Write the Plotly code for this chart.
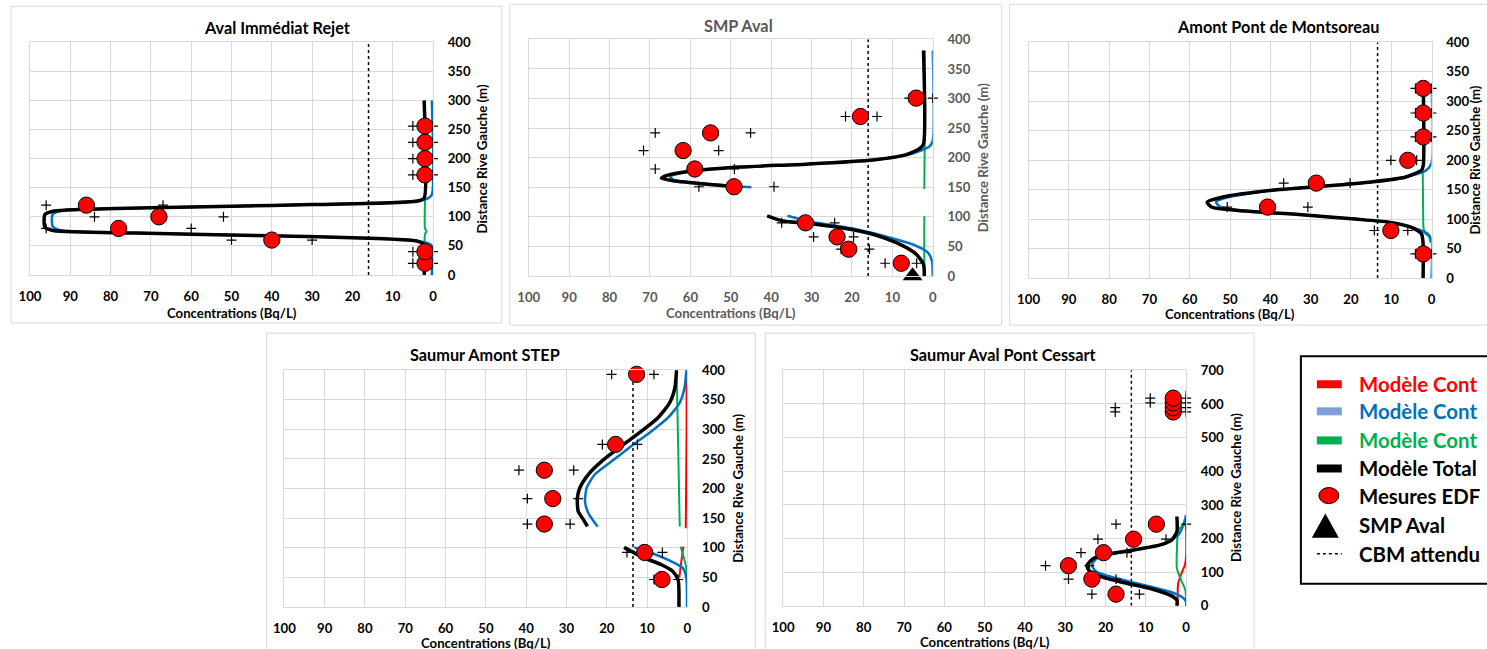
import plotly.graph_objects as go

# Layout is specified in target-picture pixels (1487x649) and converted to figure pixels.
FX, FY = 0.9924, 649 / 667   # observed page->picture scaling
OFF = 8                      # body margin of the page
W, H = 1495, 659             # figure size (covers the captured page area)

# ---------------- Panel 1 : Aval Immédiat Rejet ----------------
p1_total_x = [2.2, 2.2, 3.5, 10, 30, 50, 70, 88, 94, 96.3, 96.3, 94, 73.6, 40.6, 15.8, 4.3, 2.2, 2.2]
p1_total_y = [300, 132, 127.5, 124, 121, 118, 115.5, 112.5, 110, 104, 82, 76, 72, 67.3, 63.3, 58.7, 52, 0]
p1_blue_x = [0.3, 0.3, 1.5, 4.5, 30, 50, 70, 88, 92.5, 94.4, 94.4, 92.5, 73.6, 40.6, 15.8, 4.3, 1, 0.3, 0.3]
p1_blue_y = [300, 138, 131, 127, 121, 118, 115.5, 112.5, 110, 104, 84, 77, 72, 67.3, 63.3, 59, 54, 50, 0]
p1_green_x = [2, 2, 2, 1.6, 2, 2]
p1_green_y = [300, 130, 80, 75, 70, 0]
p1_meas_x = [2, 2, 40, 78, 68, 86, 2, 2, 2, 2]
p1_meas_y = [20, 40, 60, 80, 100, 120, 172, 200, 228, 256]
p1_lo_x = [5, 5, 50, 96, 84, 96, 5, 5, 5, 5]
p1_hi_x = [0, 0, 30, 60, 52, 67, 0, 0, 0, 0]
p1_cbm = 16

# ---------------- Panel 2 : SMP Aval ----------------
p2_total_up_x = [2.3, 2.3, 3.3, 6.6, 14.8, 31.3, 47.8, 60.2, 66.0, 67.2, 64.3, 56, 50]
p2_total_up_y = [381, 223, 215, 205, 196, 189, 184, 177, 169.5, 165, 161, 155, 151.5]
p2_total_lo_x = [41, 37.1, 31.3, 23.1, 14.8, 8.2, 4.1, 2.3, 2.1]
p2_total_lo_y = [101.7, 93, 89, 82, 70.6, 53.7, 36.7, 19.8, 0]
p2_blue_up_x = [0, 0, 0.8, 3.3, 6.6, 14.8, 31.3, 47.8, 60.2, 65, 64.0, 56, 44.9]
p2_blue_up_y = [381, 229, 219, 211, 204, 196, 189, 184, 177, 168, 162, 156, 150]
p2_blue_lo_x = [36, 31.3, 19, 10.7, 4.1, 1.2, 0.2, 0]
p2_blue_lo_y = [101.7, 93, 79, 65, 51, 39.5, 25, 0]
p2_green_up_x = [2.0, 2.0, 2.1]
p2_green_up_y = [381, 225, 147]
p2_green_lo_x = [2.1, 2.1, 2.0]
p2_green_lo_y = [101, 20, 0]
p2_meas_x = [7.8, 20.8, 23.7, 31.5, 49.2, 58.9, 61.8, 55, 17.9, 4.1]
p2_meas_y = [21.5, 45.2, 66.1, 89.8, 150.8, 180.8, 211.9, 241.8, 269.5, 300.6]
p2_lo_x = [11.8, 22.7, 29.5, 37.4, 57.9, 68.7, 71.6, 68.7, 21.6, 5.8]
p2_hi_x = [4.0, 15.7, 19.6, 24.3, 39.3, 49.1, 53, 45.1, 13.8, 0]
p2_smp_x = [5.0]
p2_smp_y = [0]
p2_cbm = 16

# ---------------- Panel 3 : Amont Pont de Montsoreau ----------------
p3_total_x = [2.06, 2.06, 2.5, 6.6, 14.9, 27.2, 39.6, 52, 55.7, 54.5, 47.9, 31.4, 19, 10.7, 5, 2.5, 2.1, 2.1]
p3_total_y = [327, 191, 183, 171, 163, 155.5, 148.7, 137, 128.8, 120, 114.6, 107, 100, 94.7, 86, 75, 58, 0]
p3_blue_x = [0, 0, 1.5, 6.6, 14.9, 27.2, 39.6, 50.5, 53.5, 52.5, 47.9, 31.4, 19, 10.7, 4, 1, 0, 0]
p3_blue_y = [327, 195, 182, 171, 163, 155.5, 148.7, 137, 129, 121, 114.6, 107, 100, 94.7, 84, 75, 64, 0]
p3_green_x = [2.2, 2.1, 2.0, 1.6, 0.6, 0.3]
p3_green_y = [185, 120, 85, 76, 70, 60]
p3_meas_x = [2.06, 10.1, 40.7, 28.6, 5.9, 2.06, 2.06, 2.06]
p3_meas_y = [40.9, 80.6, 120.3, 161, 199.7, 239.4, 280, 321.7]
p3_lo_x = [4, 14.2, 50.7, 36.7, 10.1, 4, 4, 4]
p3_hi_x = [0, 5.9, 30.7, 20.2, 3.7, 0, 0, 0]
p3_cbm = 13.4

# ---------------- Panel 4 : Saumur Amont STEP ----------------
p4_total_up_x = [2.7, 3.1, 4.4, 7.3, 11.4, 16.4, 21.3, 24.6, 26.7, 27.3, 27.1, 25.8, 24.8]
p4_total_up_y = [400, 370.6, 345, 319.8, 297, 271.8, 246, 223.7, 201, 184, 161.6, 147.5, 136]
p4_total_lo_x = [15.7, 13.9, 10.6, 6.4, 3.6, 2.3, 2.1, 2.1]
p4_total_lo_y = [100.6, 93.8, 82.5, 71.2, 60, 45.8, 26, 0]
p4_blue_up_x = [0.25, 0.7, 1.9, 4.8, 8.9, 13.9, 18.8, 23, 25, 25.4, 24.6, 22.3]
p4_blue_up_y = [400, 370.6, 345, 319.8, 297, 271.8, 246, 223.7, 201, 178.5, 158.8, 136]
p4_blue_lo_x = [13.2, 8.9, 4, 1.1, 0.25, 0.1]
p4_blue_lo_y = [100.6, 91, 76.8, 65.5, 48.6, 0]
p4_green_up_x = [2.7, 2.5, 1.9]
p4_green_up_y = [400, 342, 136]
p4_green_lo_x = [1.7, 0.25, 0.1]
p4_green_lo_y = [102, 65, 0]
p4_red_up_x = [0.2, 0.2, 0.4]
p4_red_up_y = [400, 300, 133]
p4_red_lo_x = [1.0, 1.5, 2.0]
p4_red_lo_y = [102, 77, 50]
p4_meas_x = [6.3, 10.6, 35.5, 33.4, 35.5, 17.8, 12.6]
p4_meas_y = [46.3, 92, 140, 183, 231, 274.6, 393]
p4_lo_x = [8.3, 15.0, 39.7, 39.7, 41.8, 21.1, 18.8]
p4_hi_x = [2.3, 6.2, 29.1, 27.1, 28.2, 12.4, 8.3]
p4_cbm = 13.5

# ---------------- Panel 5 : Saumur Aval Pont Cessart ----------------
p5_total_x = [2.3, 2.3, 3.55, 6.4, 13.05, 19.7, 23, 24.6, 24.2, 22.2, 16.4, 8.9, 4, 2.3, 2.3]
p5_total_y = [265.5, 220.7, 195.9, 181, 166, 153, 141, 121, 106, 91.5, 71.6, 51.7, 31.8, 17, 0]
p5_blue_x = [0, 0.7, 1.9, 6.4, 13.05, 19.7, 22.5, 23.4, 22.5, 20, 14, 8, 4, 1.1, 0, 0]
p5_blue_y = [270, 240.6, 211, 181, 166, 150, 138, 121, 104, 91, 72, 55, 42, 27, 12, 0]
p5_green_x = [0, 1.9, 2.3, 2.3, 1.2, 0.2, 0]
p5_green_y = [245, 226, 166, 111, 75, 47, 0]
p5_green_top_x = [0, 0]
p5_green_top_y = [580, 640]
p5_red_x = [0, 0, 0.3, 1.2, 2.0, 2.1]
p5_red_y = [245, 150, 122, 95, 66, 0]
p5_meas_x = [17.4, 23.4, 29.2, 20.5, 13.05, 7.4, 3.2, 3.2, 3.2, 3.2]
p5_meas_y = [34.8, 79.5, 119.3, 158, 198, 242.6, 576, 589, 603, 617]
p5_lo_x = [23.4, 29.2, 34.9, 26.1, 21.9, 17.4, 17.6, 17.6, 8.9, 8.9]
p5_hi_x = [11.6, 17.4, 24.0, 14.7, 5.0, 0, 0, 0, 0, 0]
p5_cbm = 13.6

# ---------------- styling ----------------
RED, BLUE, GREEN, BLACK = "#ff0000", "#0070c0", "#00b050", "#000000"
FONT = "Lato"
GRID = "#d9d9d9"
S = 1 / ((FX + FY) / 2)     # size compensation


def fs(v):
    return round(v * S, 1)


fig = go.Figure()


def line(ax, xs, ys, color, width):
    fig.add_trace(go.Scatter(x=xs, y=ys, mode="lines", xaxis="x" + ax, yaxis="y" + ax,
                             line=dict(color=color, width=width, shape="spline", smoothing=0.6),
                             cliponaxis=False, showlegend=False, hoverinfo="skip"))


def cbm(ax, val, ymax):
    fig.add_trace(go.Scatter(x=[val, val], y=[0, ymax], mode="lines", xaxis="x" + ax, yaxis="y" + ax,
                             line=dict(color=BLACK, width=1.5, dash="dot"),
                             showlegend=False, hoverinfo="skip"))


def meas(ax, mx, my, lo, hi):
    fig.add_trace(go.Scatter(x=lo + hi, y=my + my, mode="markers", xaxis="x" + ax, yaxis="y" + ax,
                             marker=dict(symbol="cross-thin", size=fs(7), line=dict(color=BLACK, width=1.2)),
                             cliponaxis=False, showlegend=False, hoverinfo="skip"))
    fig.add_trace(go.Scatter(x=mx, y=my, mode="markers", xaxis="x" + ax, yaxis="y" + ax,
                             marker=dict(symbol="circle", size=fs(16), color=RED, line=dict(color=BLACK, width=1)),
                             cliponaxis=False, showlegend=False, hoverinfo="skip"))


# panel 1
cbm("", p1_cbm, 400)
line("", p1_green_x, p1_green_y, GREEN, 2)
line("", p1_blue_x, p1_blue_y, BLUE, 2.5)
line("", p1_total_x, p1_total_y, BLACK, 3.5)
meas("", p1_meas_x, p1_meas_y, p1_lo_x, p1_hi_x)

# panel 2
cbm("2", p2_cbm, 400)
line("2", p2_green_up_x, p2_green_up_y, GREEN, 2)
line("2", p2_green_lo_x, p2_green_lo_y, GREEN, 2)
line("2", p2_blue_up_x, p2_blue_up_y, BLUE, 2.5)
line("2", p2_blue_lo_x, p2_blue_lo_y, BLUE, 2.5)
line("2", p2_total_up_x, p2_total_up_y, BLACK, 3.5)
line("2", p2_total_lo_x, p2_total_lo_y, BLACK, 3.5)
meas("2", p2_meas_x, p2_meas_y, p2_lo_x, p2_hi_x)
fig.add_trace(go.Scatter(x=p2_smp_x, y=p2_smp_y, mode="markers", xaxis="x2", yaxis="y2",
                         marker=dict(symbol="triangle-up", size=fs(17), color=BLACK),
                         cliponaxis=False, showlegend=False, hoverinfo="skip"))

# panel 3
cbm("3", p3_cbm, 400)
line("3", p3_green_x, p3_green_y, GREEN, 2)
line("3", p3_blue_x, p3_blue_y, BLUE, 2.5)
line("3", p3_total_x, p3_total_y, BLACK, 3.5)
meas("3", p3_meas_x, p3_meas_y, p3_lo_x, p3_hi_x)

# panel 4
cbm("4", p4_cbm, 400)
line("4", p4_red_up_x, p4_red_up_y, RED, 2)
line("4", p4_red_lo_x, p4_red_lo_y, RED, 2)
line("4", p4_green_up_x, p4_green_up_y, GREEN, 2)
line("4", p4_green_lo_x, p4_green_lo_y, GREEN, 2)
line("4", p4_blue_up_x, p4_blue_up_y, BLUE, 2.5)
line("4", p4_blue_lo_x, p4_blue_lo_y, BLUE, 2.5)
line("4", p4_total_up_x, p4_total_up_y, BLACK, 3.5)
line("4", p4_total_lo_x, p4_total_lo_y, BLACK, 3.5)
meas("4", p4_meas_x, p4_meas_y, p4_lo_x, p4_hi_x)

# panel 5
cbm("5", p5_cbm, 700)
line("5", p5_red_x, p5_red_y, RED, 2)
line("5", p5_green_x, p5_green_y, GREEN, 2)
line("5", p5_green_top_x, p5_green_top_y, GREEN, 2)
line("5", p5_blue_x, p5_blue_y, BLUE, 2.5)
line("5", p5_total_x, p5_total_y, BLACK, 3.5)
meas("5", p5_meas_x, p5_meas_y, p5_lo_x, p5_hi_x)

# ---------------- axes / layout (positions in picture pixels) ----------------
panels = [
    # suffix, plot left, right, top, bottom, ymax, dtick, text color, title, title pos, ytitle x, xtitle y
    ("", 27, 431, 42, 274, 400, 50, "#000000", "Aval Immédiat Rejet", (275, 27), 480, 312),
    ("2", 527, 932, 39, 275, 400, 50, "#595959", "SMP Aval", (737, 25), 982, 312),
    ("3", 1028, 1432, 42, 277, 400, 50, "#000000", "Amont Pont de Montsoreau", (1278, 26), 1476, 313),
    ("4", 282, 686, 369, 605, 400, 50, "#000000", "Saumur Amont STEP", (483, 353), 736, 641),
    ("5", 782, 1186, 369, 604, 700, 100, "#000000", "Saumur Aval Pont Cessart", (1002, 353), 1236, 640),
]

borders = [(8, 6, 500, 322), (508, 4, 1001, 324), (1009, 4, 1500, 324), (264, 332, 754, 660),
           (764, 332, 1254, 660)]

shapes = []
annotations = []


def px(x):
    return (x / FX - OFF) / W


def py(y):
    return 1 - (y / FY - OFF) / H


for (l, t, r, b) in borders:
    shapes.append(dict(type="rect", xref="paper", yref="paper", x0=px(l), x1=px(r), y0=py(b), y1=py(t),
                       line=dict(color="#d9d9d9", width=1), fillcolor="rgba(0,0,0,0)", layer="below"))

layout_axes = {}
for (suf, L, R, T, B, ymax, dt, col, title, tpos, ytx, xty) in panels:
    xname = "xaxis" + suf
    yname = "yaxis" + suf
    tf = dict(family=FONT, size=fs(13), color=col, weight="bold")
    layout_axes[xname] = dict(domain=[px(L), px(R)], range=[100, 0], dtick=10, anchor="y" + suf,
                              showgrid=True, gridcolor=GRID, gridwidth=1, zeroline=False,
                              showline=True, linecolor=GRID, mirror=True, ticks="",
                              tickfont=tf, ticklabelstandoff=9, fixedrange=True)
    layout_axes[yname] = dict(domain=[py(B), py(T)], range=[0, ymax], dtick=dt, anchor="x" + suf,
                              side="right", showgrid=True, gridcolor=GRID, gridwidth=1, zeroline=False,
                              showline=True, linecolor=GRID, mirror=True, ticks="",
                              tickfont=tf, ticklabelstandoff=11, fixedrange=True)
    annotations.append(dict(text=title, x=px(tpos[0]), y=py(tpos[1]), xref="paper", yref="paper",
                            xanchor="center", yanchor="middle", showarrow=False,
                            font=dict(family=FONT, size=fs(16), color=col, weight="bold")))
    annotations.append(dict(text="Distance Rive Gauche (m)", x=px(ytx), y=py((T + B) / 2), xref="paper",
                            yref="paper", xanchor="center", yanchor="middle", showarrow=False, textangle=-90,
                            font=dict(family=FONT, size=fs(13), color=col, weight="bold")))
    annotations.append(dict(text="Concentrations (Bq/L)", x=px((L + R) / 2), y=py(xty), xref="paper",
                            yref="paper", xanchor="center", yanchor="middle", showarrow=False,
                            font=dict(family=FONT, size=fs(13), color=col, weight="bold")))

# ---------------- legend (drawn) ----------------
leg_labels = ["Modèle Cont", "Modèle Cont", "Modèle Cont", "Modèle Total", "Mesures EDF", "SMP Aval", "CBM attendu"]
leg_colors = [RED, BLUE, GREEN, BLACK, BLACK, BLACK, BLACK]
leg_rows = [383, 410, 439, 467, 494, 523, 552]
swatch_colors = [RED, "#7f9fd8", GREEN, BLACK]

shapes.append(dict(type="rect", xref="paper", yref="paper", x0=px(1301), x1=px(1510), y0=py(582), y1=py(355),
                   line=dict(color=BLACK, width=2), fillcolor="white", layer="below"))
for i, c in enumerate(swatch_colors):
    yy = leg_rows[i]
    shapes.append(dict(type="rect", xref="paper", yref="paper", x0=px(1317), x1=px(1342),
                       y0=py(yy + 4), y1=py(yy - 4), line=dict(width=0), fillcolor=c))
shapes.append(dict(type="circle", xref="paper", yref="paper", x0=px(1319), x1=px(1339),
                   y0=py(leg_rows[4] + 8), y1=py(leg_rows[4] - 8),
                   line=dict(color=BLACK, width=1), fillcolor=RED))
ty = leg_rows[5]
shapes.append(dict(type="path", xref="paper", yref="paper",
                   path="M {} {} L {} {} L {} {} Z".format(px(1312), py(ty + 13), px(1339), py(ty + 13),
                                                          px(1325.5), py(ty - 11)),
                   line=dict(width=0), fillcolor=BLACK))
shapes.append(dict(type="line", xref="paper", yref="paper", x0=px(1317), x1=px(1342),
                   y0=py(leg_rows[6]), y1=py(leg_rows[6]), line=dict(color=BLACK, width=1.5, dash="dot")))
for lab, c, yy in zip(leg_labels, leg_colors, leg_rows):
    annotations.append(dict(text=lab, x=px(1357), y=py(yy), xref="paper", yref="paper",
                            xanchor="left", yanchor="middle", showarrow=False,
                            font=dict(family=FONT, size=fs(20), color=c, weight="bold")))

fig.update_layout(width=W, height=H, margin=dict(l=0, r=0, t=0, b=0), autosize=False,
                  paper_bgcolor="white", plot_bgcolor="white", showlegend=False,
                  shapes=shapes, annotations=annotations, **layout_axes)

fig.write_html("out.html")
